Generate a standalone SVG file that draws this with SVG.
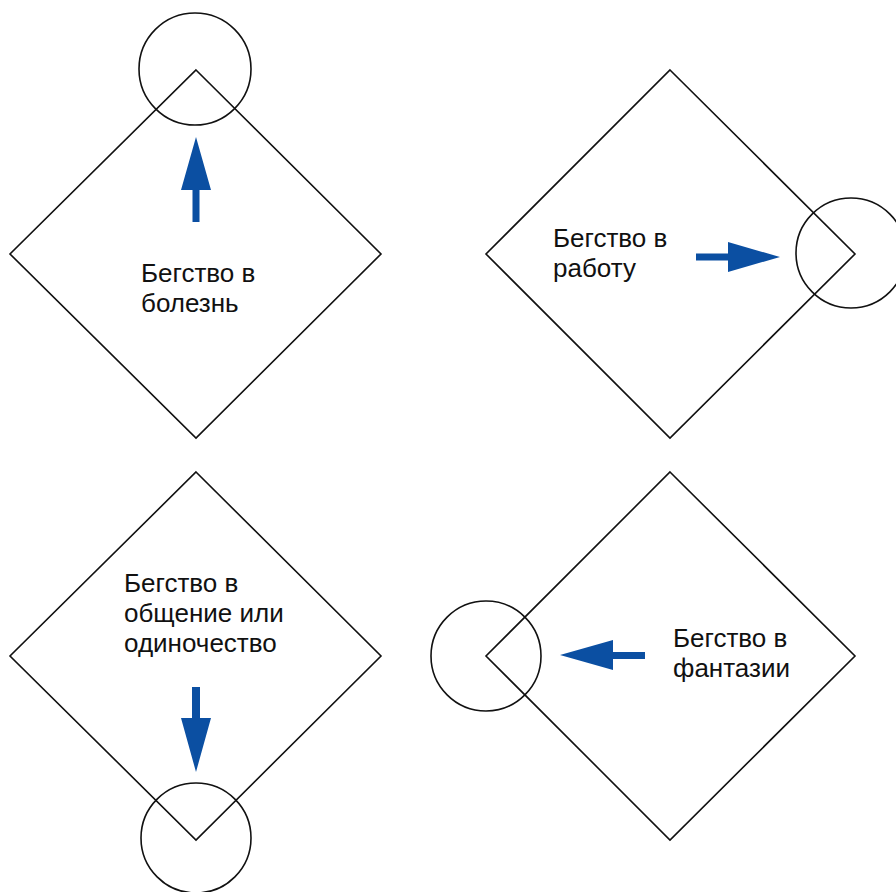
<svg xmlns="http://www.w3.org/2000/svg" width="896" height="892" viewBox="0 0 896 892">
<style>
.d{fill:none;stroke:#111;stroke-width:1.6}
.c{fill:none;stroke:#111;stroke-width:1.6}
.a{fill:#0b4fa2}
.t{font-family:"Liberation Sans",Arial,sans-serif;font-size:26px;fill:#111}
</style>
<rect width="896" height="892" fill="#fff"/>
<g id="node-illness">
<polygon class="d" points="196,70 381,254 196,438 10,254"/>
<circle class="c" cx="195" cy="69" r="56"/>
<text class="t" x="141" y="282">Бегство в</text>
<text class="t" x="141" y="312">болезнь</text>
</g>
<g id="node-work">
<polygon class="d" points="670,70 855,254 670,438 486,254"/>
<circle class="c" cx="851" cy="253" r="55"/>
<text class="t" x="553" y="247">Бегство в</text>
<text class="t" x="553" y="277">работу</text>
</g>
<g id="node-communication">
<polygon class="d" points="196,472 381,656 196,840 10,656"/>
<circle class="c" cx="196" cy="838" r="55"/>
<text class="t" x="124" y="592">Бегство в</text>
<text class="t" x="124" y="622">общение или</text>
<text class="t" x="124" y="652">одиночество</text>
</g>
<g id="node-fantasy">
<polygon class="d" points="670,472 855,656 670,840 486,656"/>
<circle class="c" cx="486" cy="656" r="55"/>
<text class="t" x="673" y="647">Бегство в</text>
<text class="t" x="673" y="677">фантазии</text>
</g>
<g id="connectors">
<polygon class="a" points="192.5,222 199.5,222 199.5,190 211,190 196,137 181,190 192.5,190"/>
<polygon class="a" points="696,253.5 696,260.5 728,260.5 728,272 780,257 728,242 728,253.5"/>
<polygon class="a" points="192,687 200,687 200,718 211,718 196,772 181,718 192,718"/>
<polygon class="a" points="645,652 645,659 613,659 613,670 560,655 613,640 613,652"/>
</g>
</svg>
